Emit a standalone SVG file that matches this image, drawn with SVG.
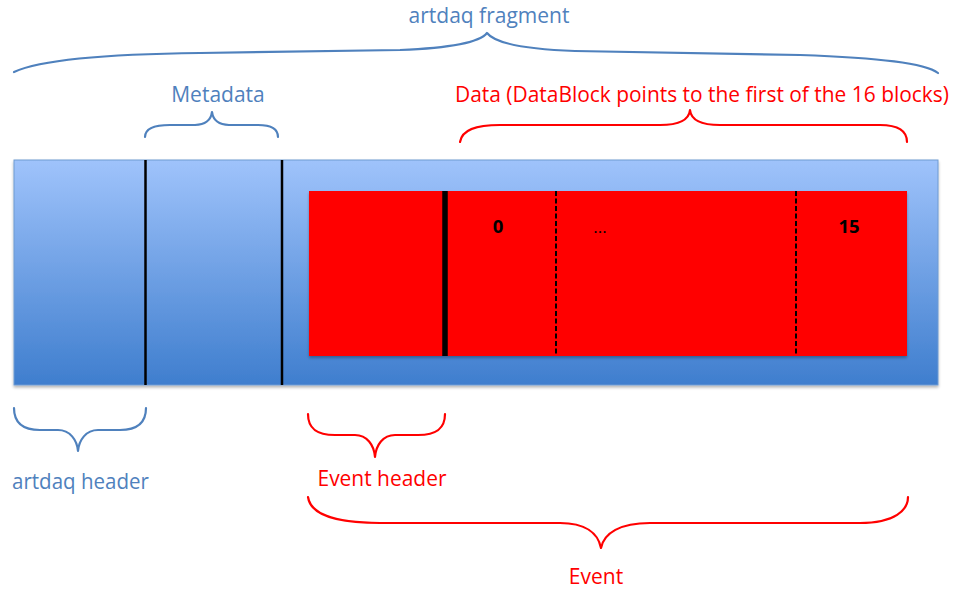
<svg xmlns="http://www.w3.org/2000/svg" width="953" height="591" viewBox="0 0 953 591">
<defs>
<linearGradient id="blueGrad" x1="0" y1="0" x2="0" y2="1">
<stop offset="0" stop-color="#9fc3fb"/>
<stop offset="1" stop-color="#3f7ece"/>
</linearGradient>
<filter id="sh" x="-5%" y="-5%" width="110%" height="115%">
<feGaussianBlur in="SourceAlpha" stdDeviation="1.5"/>
<feOffset dx="0" dy="2" result="b"/>
<feComponentTransfer><feFuncA type="linear" slope="0.3"/></feComponentTransfer>
<feMerge><feMergeNode/><feMergeNode in="SourceGraphic"/></feMerge>
</filter>
</defs>
<style>
.blue{fill:none;stroke:#4f81bd;stroke-width:2.2;stroke-linecap:round;stroke-linejoin:round}
.red{fill:none;stroke:#ff0000;stroke-width:2.2;stroke-linecap:round;stroke-linejoin:round}
.lb{font-family:"Open Sans","Noto Sans",sans-serif;font-size:21px;fill:#4f81bd;text-anchor:middle}
.lr{font-family:"Open Sans","Noto Sans",sans-serif;font-size:21px;fill:#ff0000;text-anchor:middle}
.num{font-family:"Open Sans","Noto Sans",sans-serif;font-size:18.5px;font-weight:bold;fill:#000;text-anchor:middle}
.sep{stroke:#000;stroke-width:2.5}
.dash{stroke:#000;stroke-width:2;stroke-dasharray:5 2.5}
</style>
<rect width="953" height="591" fill="#fff"/>
<g id="fragment">
<rect x="14" y="160" width="924" height="225" fill="url(#blueGrad)" stroke="#6f9bd2" stroke-width="1" filter="url(#sh)"/>
<line class="sep" x1="145.5" y1="160" x2="145.5" y2="385"/>
<line class="sep" x1="282" y1="160" x2="282" y2="385"/>
</g>
<g id="event">
<rect x="309" y="191" width="598" height="165" fill="#ff0000" filter="url(#sh)"/>
<line x1="445" y1="191" x2="445" y2="356" stroke="#000" stroke-width="5.5"/>
<line class="dash" x1="556" y1="191" x2="556" y2="356"/>
<line class="dash" x1="796" y1="191" x2="796" y2="356"/>
<text class="num" x="498" y="233">0</text>
<text x="600" y="233" font-family="Open Sans, sans-serif" font-size="17" fill="#000" text-anchor="middle">...</text>
<text class="num" x="849" y="233">15</text>
</g>
<g id="connectors">
<path class="blue" d="M14,72 C40,60 110,54 200,53 L400,50 C450,48 480,42 487,33 C494,42 520,49 575,51 L800,55 C880,58 925,63 938,73"/>
<path class="blue" d="M145,137 C145,128 154,125 170,125 L195,125 C205,125 211,120 212,112 C213,120 219,125 229,125 L258,125 C270,125 278,128 278,137"/>
<path class="red" d="M460,142 C462,130 475,125 500,125 L660,125 C680,125 689,120 690,110 C691,120 700,125 720,125 L880,125 C898,125 907,131 907,142"/>
<path class="blue" d="M14,408 C14,422 22,430 40,430 L58,430 C70,430 77,440 78,451 C79,440 86,430 98,430 L120,430 C138,430 146,422 146,408"/>
<path class="red" d="M308,414 C308,428 316,435 335,435 L355,435 C367,435 374,445 375,457 C376,445 383,435 395,435 L418,435 C437,435 445,428 445,414"/>
<path class="red" d="M308,497 C310,512 330,523 380,523 L560,523 C585,523 598,533 601,548 C604,533 620,523 650,523 L860,523 C895,523 908,510 908,497"/>
</g>
<g id="labels">
<text class="lb" x="489" y="23">artdaq fragment</text>
<text class="lb" x="218" y="102">Metadata</text>
<text class="lr" x="702" y="102" textLength="494" lengthAdjust="spacingAndGlyphs">Data (DataBlock points to the first of the 16 blocks)</text>
<text class="lb" x="80.5" y="489" textLength="137" lengthAdjust="spacingAndGlyphs">artdaq header</text>
<text class="lr" x="382" y="486" textLength="129" lengthAdjust="spacingAndGlyphs">Event header</text>
<text class="lr" x="596" y="584">Event</text>
</g>
</svg>
